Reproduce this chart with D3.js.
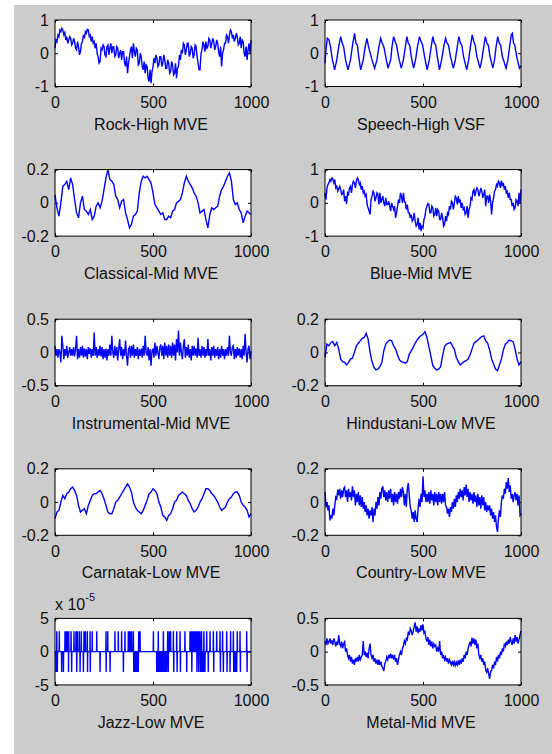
<!DOCTYPE html>
<html>
<head>
<meta charset="utf-8">
<script src="https://cdn.jsdelivr.net/npm/d3@7"></script>
<style>
  body { margin: 0; background: #fff; }
  text { font-family: "Liberation Sans", Arial, sans-serif; }
</style>
</head>
<body>
<div id="fig"></div>
<script>
// Values. Noisy traces: one value every 5 samples (0..1000),
// smoother ones every 10 samples.
const rockVals = [0.15,0.4,0.35,0.55,0.5,0.7,0.65,0.75,0.7,0.55,
  0.62,0.4,0.5,0.3,0.4,0.5,0.45,0.25,0.3,0.45,
  0.35,0.15,0.1,0.35,0.2,-0.05,0.05,0.3,0.35,0.55,
  0.45,0.65,0.6,0.72,0.7,0.5,0.55,0.35,0.5,0.3,
  0.35,0.15,0.3,0.0,-0.1,-0.3,-0.25,0.15,0.1,0.25,
  0.2,-0.05,-0.1,0.2,0.25,-0.05,0.15,0.3,0.0,0.2,
  0.2,-0.1,-0.05,0.2,0.15,-0.15,0.0,0.1,-0.2,0.05,
  0.05,-0.3,-0.4,-0.1,-0.6,-0.3,-0.1,0.1,0.2,-0.15,
  0.3,0.05,-0.1,0.15,0.1,-0.35,-0.3,0.0,-0.1,-0.4,
  -0.5,-0.25,-0.6,-0.35,-0.4,-0.75,-0.85,-0.5,-0.9,-0.55,
  -0.4,-0.15,-0.3,-0.05,-0.15,-0.4,-0.35,-0.1,-0.1,-0.4,
  -0.3,-0.05,-0.2,-0.45,-0.45,-0.2,-0.3,-0.6,-0.55,-0.25,
  -0.35,-0.65,-0.6,-0.3,-0.75,-0.45,-0.4,-0.05,-0.2,0.1,
  0.0,0.3,0.25,-0.05,0.1,0.3,0.3,-0.1,0.0,0.2,
  0.15,-0.15,-0.05,0.25,0.2,-0.1,-0.3,-0.5,-0.5,0.0,
  0.1,0.35,0.25,0.05,0.35,0.15,0.2,0.45,0.4,0.15,
  0.3,0.45,0.35,0.1,0.2,0.4,0.3,0.05,-0.1,0.2,
  -0.4,0.0,0.1,0.3,0.3,0.55,0.5,0.3,0.55,0.7,
  0.65,0.45,0.55,0.35,0.45,0.6,0.5,0.25,0.3,0.5,
  0.15,0.4,0.35,0.0,-0.1,0.2,-0.2,0.1,0.3,0.0,
  0.4];

// Speech is quasi periodic, so keep [sample, value] key points
const speechPts = [[0,-0.3],[5,0.1],[12,0.45],[20,0.4],[28,0.2],[38,-0.2],[49,-0.5],
  [60,-0.2],[70,0.2],[80,0.5],[88,0.3],[95,0.2],[105,-0.2],[117,-0.5],
  [130,-0.2],[142,0.3],[151,0.6],[158,0.3],[165,0.25],[172,-0.1],[182,-0.5],
  [195,-0.2],[205,0.2],[214,0.45],[222,0.2],[240,-0.2],[253,-0.45],
  [265,-0.2],[275,0.2],[284,0.45],[292,0.3],[300,0.2],[310,-0.1],[321,-0.45],
  [335,-0.2],[342,0.2],[350,0.5],[358,0.35],[365,0.25],[375,-0.1],[389,-0.45],
  [400,-0.2],[410,0.2],[418,0.5],[425,0.3],[432,0.25],[440,-0.1],[452,-0.45],
  [462,-0.2],[472,0.2],[482,0.5],[490,0.35],[498,0.25],[508,-0.1],[521,-0.5],
  [532,-0.2],[542,0.2],[550,0.5],[558,0.3],[565,0.25],[573,-0.1],[584,-0.5],
  [595,-0.2],[606,0.2],[615,0.45],[623,0.3],[630,0.25],[640,-0.1],[655,-0.45],
  [665,-0.2],[675,0.2],[683,0.5],[691,0.3],[698,0.25],[707,-0.1],[723,-0.5],
  [733,-0.2],[742,0.2],[751,0.55],[759,0.35],[766,0.25],[775,-0.1],[791,-0.45],
  [800,-0.2],[810,0.2],[818,0.5],[826,0.3],[833,0.25],[842,-0.1],[856,-0.45],
  [865,-0.2],[873,0.2],[881,0.5],[889,0.3],[896,0.25],[905,-0.1],[924,-0.45],
  [933,-0.2],[942,0.2],[950,0.55],[956,0.6],[962,0.3],[968,0.25],[978,-0.1],
  [992,-0.45],[1000,-0.38]];

const classicalVals = [0.05,-0.03,-0.08,0.0,0.1,0.11,0.13,0.08,0.15,0.11,
  0.02,-0.06,-0.09,0.0,0.04,-0.04,-0.05,-0.07,-0.04,-0.1,
  -0.08,-0.02,0.0,-0.03,0.01,0.08,0.15,0.2,0.14,0.13,
  0.11,0.04,0.02,-0.03,0.01,0.02,-0.06,-0.1,-0.15,-0.13,
  -0.08,-0.07,-0.05,0.06,0.13,0.16,0.15,0.16,0.14,0.12,
  0.06,-0.01,-0.03,-0.05,-0.07,-0.06,-0.1,-0.1,-0.08,-0.09,
  -0.05,-0.04,0.0,0.01,0.02,0.06,0.12,0.16,0.13,0.11,
  0.09,0.06,0.04,0.0,-0.06,-0.05,-0.04,-0.1,-0.15,-0.07,
  -0.03,-0.04,-0.03,-0.02,0.04,0.08,0.1,0.13,0.16,0.18,
  0.13,0.02,-0.01,0.0,-0.04,-0.06,-0.12,-0.08,-0.05,-0.06,
  -0.07];

const blueVals = [0.3,0.1,0.45,0.55,0.6,0.7,0.65,0.75,0.72,0.6,
  0.7,0.45,0.5,0.35,0.42,0.5,0.4,0.25,0.27,0.4,
  0.05,0.2,-0.03,0.3,0.25,0.45,0.5,0.3,0.55,0.65,
  0.6,0.45,0.65,0.75,0.7,0.55,0.6,0.4,0.5,0.3,
  0.35,0.2,0.25,-0.05,-0.15,-0.25,-0.35,0.1,0.2,0.35,
  0.3,0.05,0.15,0.3,0.25,-0.05,0.3,0.0,0.1,0.2,
  0.0,-0.1,0.15,-0.05,-0.05,0.05,-0.1,-0.25,0.0,-0.1,
  -0.2,-0.1,-0.45,-0.3,-0.1,0.1,0.0,0.3,0.2,0.0,
  0.3,0.05,0.0,-0.2,-0.05,-0.3,-0.3,-0.45,-0.35,-0.55,
  -0.5,-0.3,-0.55,-0.7,-0.65,-0.45,-0.8,-0.6,-0.85,-0.7,
  -0.75,-0.5,-0.4,-0.2,-0.1,-0.02,-0.05,-0.3,-0.3,-0.1,
  -0.15,-0.4,-0.35,-0.15,-0.4,-0.2,-0.25,-0.5,-0.5,-0.3,
  -0.45,-0.7,-0.65,-0.4,-0.55,-0.3,-0.35,-0.1,-0.2,0.05,
  0.0,-0.2,0.0,0.2,0.15,-0.05,0.2,0.0,0.1,-0.15,
  0.0,-0.2,-0.15,-0.35,-0.3,-0.1,-0.45,-0.2,-0.1,0.15,
  0.1,0.35,0.4,0.2,0.35,0.45,0.4,0.2,0.3,0.45,
  0.35,0.15,0.25,0.4,-0.1,0.2,0.2,0.0,0.25,0.05,
  -0.35,0.0,0.15,0.35,0.4,0.55,0.5,0.65,0.6,0.45,
  0.67,0.5,0.6,0.4,0.5,0.3,0.35,0.15,0.3,0.1,
  0.1,-0.1,0.0,-0.2,-0.15,0.1,0.05,-0.1,0.3,0.0,
  0.4];

const instrumentalVals = [0.1,-0.05,0.05,-0.08,0.05,0.0,-0.15,0.25,0.1,-0.1,
  0.05,-0.05,0.1,-0.08,0.0,0.08,-0.05,0.05,-0.05,0.08,
  -0.06,0.05,0.25,-0.1,0.05,-0.08,0.08,-0.05,0.1,-0.08,
  0.06,-0.06,0.05,-0.1,0.08,-0.02,0.06,-0.08,0.05,-0.05,
  0.3,-0.05,0.08,-0.08,0.05,-0.05,0.1,-0.06,0.08,-0.1,
  0.05,-0.08,0.06,-0.12,0.05,-0.05,0.12,-0.05,0.25,0.0,
  -0.08,0.1,-0.05,0.08,-0.12,0.05,0.2,-0.05,0.08,-0.1,
  0.05,-0.05,0.18,-0.05,-0.2,0.05,0.08,-0.08,0.1,-0.05,
  0.12,-0.08,0.05,-0.05,0.08,-0.1,0.05,-0.05,0.06,-0.08,
  0.1,-0.05,0.25,0.0,-0.05,0.08,-0.12,0.05,-0.2,0.03,
  0.05,-0.08,0.15,-0.05,0.1,0.0,-0.1,0.08,0.12,-0.05,
  0.1,-0.1,0.15,-0.05,0.1,-0.08,0.12,-0.05,0.1,-0.08,
  0.15,-0.05,0.12,-0.12,0.2,0.0,0.33,-0.05,0.15,0.0,
  -0.1,0.1,0.2,-0.08,0.08,-0.05,0.12,-0.08,0.05,-0.12,
  0.1,-0.05,0.1,-0.05,0.06,-0.08,0.22,-0.05,0.05,-0.08,
  0.1,-0.05,0.08,-0.08,0.05,-0.05,0.2,-0.05,0.05,-0.12,
  0.08,-0.05,0.1,-0.08,0.05,-0.05,0.08,-0.1,0.05,-0.08,
  0.1,-0.05,0.05,-0.1,0.05,-0.05,0.08,-0.05,0.25,0.0,
  -0.05,0.08,0.1,-0.1,0.05,-0.08,0.08,-0.05,0.06,-0.08,
  0.05,-0.1,0.1,-0.05,0.28,0.0,-0.15,0.05,0.1,-0.1,
  0.02];

const hindustaniVals = [-0.03,0.05,0.04,0.06,0.065,0.04,0.06,0.02,-0.04,-0.055,
  -0.06,-0.075,-0.06,-0.04,-0.035,0.0,0.04,0.055,0.07,0.085,
  0.09,0.115,0.08,0.0,-0.055,-0.09,-0.105,-0.1,-0.085,-0.06,
  0.01,0.05,0.065,0.075,0.07,0.04,0.02,-0.015,-0.045,-0.055,
  -0.06,-0.065,-0.055,-0.01,0.01,0.03,0.055,0.075,0.09,0.1,
  0.11,0.125,0.09,0.035,-0.02,-0.08,-0.095,-0.105,-0.1,-0.085,
  -0.02,0.035,0.05,0.055,0.06,0.04,0.02,-0.03,-0.055,-0.075,
  -0.065,-0.055,-0.05,-0.04,-0.015,0.02,0.055,0.065,0.075,0.085,
  0.095,0.1,0.07,0.055,0.015,-0.04,-0.07,-0.1,-0.11,-0.075,
  -0.04,0.015,0.05,0.06,0.075,0.07,0.065,0.02,-0.04,-0.075,
  -0.055];

const carnatakVals = [-0.1,-0.06,-0.05,0.0,0.04,0.02,0.05,0.06,0.08,0.09,
  0.07,0.04,-0.02,-0.06,-0.05,-0.04,-0.07,-0.02,0.01,0.04,
  0.05,0.05,0.06,0.07,0.05,0.02,-0.02,-0.06,-0.07,-0.07,
  -0.04,0.0,0.01,0.03,0.05,0.07,0.09,0.11,0.09,0.06,
  0.0,-0.03,-0.05,-0.06,-0.07,-0.05,-0.02,0.01,0.05,0.06,
  0.08,0.07,0.05,0.0,-0.03,-0.08,-0.09,-0.11,-0.08,-0.07,
  -0.04,0.0,0.01,0.04,0.05,0.06,0.05,0.04,0.01,-0.01,
  -0.04,-0.06,-0.05,-0.03,0.0,0.02,0.05,0.08,0.08,0.07,
  0.05,0.04,0.02,0.0,-0.03,-0.05,-0.04,-0.03,0.0,0.02,
  0.03,0.05,0.06,0.06,0.04,0.0,-0.02,-0.03,-0.05,-0.09,
  -0.07];

const countryVals = [0.06,-0.03,0.0,-0.05,-0.02,-0.11,-0.08,-0.1,-0.04,-0.08,
  -0.02,0.03,0.02,0.075,0.04,0.08,0.02,0.07,0.03,0.08,
  0.09,0.03,0.07,0.0,0.08,0.03,0.06,0.01,0.095,0.03,
  0.07,-0.02,0.05,0.0,0.06,-0.02,0.04,-0.03,0.03,-0.04,
  0.0,-0.06,-0.02,-0.08,-0.04,-0.1,-0.05,-0.08,-0.03,-0.12,
  -0.04,-0.08,0.0,-0.04,0.03,-0.02,0.06,0.02,0.08,0.095,
  0.03,0.07,0.01,0.06,0.0,0.07,0.02,0.08,0.0,0.05,
  -0.02,0.06,0.0,0.05,-0.01,0.06,0.02,0.08,0.03,0.09,
  0.06,-0.02,0.05,-0.03,0.08,0.115,0.04,-0.03,-0.05,-0.1,
  -0.06,-0.12,-0.05,-0.1,-0.12,-0.04,0.02,-0.03,0.05,0.0,
  0.155,0.03,0.07,0.0,0.05,0.0,0.06,-0.01,0.07,0.01,
  0.05,-0.02,0.06,0.0,0.05,-0.02,0.06,0.0,0.05,-0.01,
  0.05,0.0,0.06,-0.02,-0.03,-0.07,-0.04,-0.09,-0.03,-0.06,
  0.0,-0.04,0.02,-0.03,0.04,0.0,0.06,0.02,0.08,0.03,
  0.07,0.01,0.09,0.04,0.105,0.03,0.08,0.0,0.06,0.01,
  0.05,-0.01,0.06,0.0,0.04,-0.03,0.05,-0.02,0.03,-0.04,
  0.04,-0.02,0.03,-0.05,0.0,-0.06,-0.02,-0.05,-0.02,-0.08,
  -0.04,-0.1,-0.06,-0.12,-0.08,-0.15,-0.18,-0.1,-0.05,-0.09,
  0.0,0.04,0.02,0.08,0.05,0.12,0.08,0.145,0.06,0.1,
  0.02,0.05,0.0,0.04,0.06,0.01,0.05,-0.02,0.04,-0.08,
  -0.07];

// Jazz: the signal sits on 0 and jumps by one quantisation step
const jazzLevel = 3.05e-5;
const jazzUp = [9,22,51,56,60,66,68,70,82,97,107,114,124,134,148,155,165,179,190,213,
  260,269,306,323,340,357,374,376,379,381,383,386,388,391,400,427,434,502,527,553,
  575,583,590,604,621,638,663,689,692,697,700,703,706,710,714,718,723,727,731,735,
  740,748,760,774,791,808,825,842,855,876,896,910,930,944,978];
const jazzDown = [5,12,34,43,69,85,111,128,145,166,180,230,261,281,349,402,405,408,411,
  414,417,420,425,519,522,529,533,536,540,544,548,551,557,561,566,570,578,606,623,
  640,672,698,724,733,742,745,750,753,757,761,765,782,810,844,859,878,893,912,915,
  918,922,927,946,980];

const metalVals = [0.16,0.1,0.2,0.12,0.15,0.2,0.12,0.17,0.1,0.2,
  0.15,0.08,0.15,0.1,0.25,0.12,0.08,0.15,0.05,0.12,
  0.15,0.0,0.05,-0.05,-0.1,-0.05,-0.15,-0.08,-0.18,-0.12,
  -0.2,-0.1,-0.15,-0.08,-0.15,-0.05,-0.12,-0.08,-0.05,0.16,
  -0.05,0.0,-0.08,-0.02,-0.1,0.05,0.12,-0.05,-0.1,-0.05,
  -0.15,-0.1,-0.18,-0.12,-0.2,-0.12,-0.2,-0.15,-0.22,-0.25,
  -0.29,-0.18,-0.15,-0.08,-0.12,-0.05,-0.1,-0.03,-0.1,-0.05,
  -0.12,-0.05,-0.15,-0.1,-0.2,-0.12,-0.05,0.0,-0.05,0.05,
  0.08,0.16,0.12,0.2,0.18,0.3,0.25,0.35,0.32,0.25,
  0.3,0.38,0.44,0.3,0.38,0.28,0.35,0.3,0.4,0.32,
  0.41,0.28,0.3,0.2,0.15,0.22,0.1,0.18,0.08,0.15,
  0.05,0.12,0.08,0.1,0.0,0.05,0.0,0.16,-0.05,0.0,
  -0.1,-0.05,-0.12,-0.08,-0.15,-0.1,-0.18,-0.12,-0.16,-0.2,
  -0.14,-0.2,-0.15,-0.21,-0.16,-0.2,-0.13,-0.2,-0.12,-0.18,
  -0.1,-0.15,-0.05,-0.1,0.0,-0.05,0.05,0.1,0.15,0.08,
  0.21,0.12,0.2,0.1,0.18,0.05,0.12,-0.05,-0.1,-0.05,
  -0.15,-0.1,-0.2,-0.15,-0.28,-0.31,-0.25,-0.33,-0.41,-0.3,
  -0.28,-0.2,-0.25,-0.15,-0.2,-0.08,-0.15,-0.05,-0.1,0.0,
  -0.05,0.05,0.0,0.12,0.08,0.15,0.1,0.18,0.12,0.22,
  0.15,0.1,0.2,0.12,0.25,0.15,0.22,0.12,0.18,0.25,
  0.31];

const xTicks = [0, 500, 1000];
const ticks1 = [-1, 0, 1];
const ticks05 = [-0.5, 0, 0.5];
const ticks02 = [-0.2, 0, 0.2];
const ticksJazz = [-5e-5, 0, 5e-5];

// spread an evenly sampled array over samples 0..1000
const stepped = vals => vals.map((v, i) => [i * 1000 / (vals.length - 1), v]);

const jazzPts = d3.range(0, 1001).map(i => [i,
  jazzUp.includes(i) ? jazzLevel : (jazzDown.includes(i) ? -jazzLevel : 0)]);

const panels = [
  { title: "Rock-High MVE", pts: stepped(rockVals), yt: ticks1, col: 0, row: 0 },
  { title: "Speech-High VSF", pts: speechPts, yt: ticks1, col: 1, row: 0 },
  { title: "Classical-Mid MVE", pts: stepped(classicalVals), yt: ticks02, col: 0, row: 1 },
  { title: "Blue-Mid MVE", pts: stepped(blueVals), yt: ticks1, col: 1, row: 1 },
  { title: "Instrumental-Mid MVE", pts: stepped(instrumentalVals), yt: ticks05, col: 0, row: 2 },
  { title: "Hindustani-Low MVE", pts: stepped(hindustaniVals), yt: ticks02, col: 1, row: 2 },
  { title: "Carnatak-Low MVE", pts: stepped(carnatakVals), yt: ticks02, col: 0, row: 3 },
  { title: "Country-Low MVE", pts: stepped(countryVals), yt: ticks02, col: 1, row: 3 },
  { title: "Jazz-Low MVE", pts: jazzPts, yt: ticksJazz, col: 0, row: 4, exp: -5 },
  { title: "Metal-Mid MVE", pts: stepped(metalVals), yt: ticks05, col: 1, row: 4 }
];

const width = 552, height = 754;
const colX = [55, 325], axW = 196, axH = 66.5, rowTop = 20, rowStep = 149.6;
const textColor = "#111";

const svg = d3.select("#fig").append("svg")
    .attr("width", width)
    .attr("height", height);

// grey figure background
svg.append("rect")
    .attr("x", 14).attr("y", 5)
    .attr("width", width - 14).attr("height", height - 5)
    .attr("fill", "#cccccc");

function drawPanel(p) {
    const g = svg.append("g")
        .attr("transform", `translate(${colX[p.col]},${rowTop + p.row * rowStep})`);

    g.append("rect")
        .attr("width", axW).attr("height", axH)
        .attr("fill", "#fff");

    const x = d3.scaleLinear().domain([0, 1000]).range([0, axW]);
    const y = d3.scaleLinear().domain([p.yt[0], p.yt[2]]).range([axH, 0]);
    const fmt = p.exp ? (d => String(Math.round(d * Math.pow(10, -p.exp)))) : (d => String(d));

    // MATLAB style ticks pointing into the box
    const styleAxis = sel => {
        sel.select(".domain").remove();
        sel.selectAll("line").attr("stroke", "#000");
        sel.selectAll("text")
            .attr("fill", textColor)
            .style("font-family", '"Liberation Sans", Arial, sans-serif')
            .style("font-size", "16px");
    };

    g.append("g")
        .attr("transform", `translate(0,${axH})`)
        .call(d3.axisBottom(x).tickValues(xTicks).tickFormat(d => String(d))
            .tickSizeInner(-3).tickSizeOuter(0).tickPadding(10))
        .call(styleAxis);
    g.append("g")
        .call(d3.axisTop(x).tickValues(xTicks).tickFormat("")
            .tickSizeInner(-3).tickSizeOuter(0))
        .call(styleAxis);
    g.append("g")
        .call(d3.axisLeft(y).tickValues(p.yt).tickFormat(fmt)
            .tickSizeInner(-3).tickSizeOuter(0).tickPadding(6))
        .call(styleAxis);
    g.append("g")
        .attr("transform", `translate(${axW},0)`)
        .call(d3.axisRight(y).tickValues(p.yt).tickFormat("")
            .tickSizeInner(-3).tickSizeOuter(0))
        .call(styleAxis);

    // signal
    g.append("path")
        .datum(p.pts)
        .attr("fill", "none")
        .attr("stroke", "#0000ff")
        .attr("stroke-width", 1.4)
        .attr("d", d3.line().x(d => x(d[0])).y(d => y(d[1])));

    // box
    g.append("rect")
        .attr("width", axW).attr("height", axH)
        .attr("fill", "none")
        .attr("stroke", "#000")
        .attr("stroke-width", 1);

    // x label
    g.append("text")
        .attr("x", axW / 2 - 2)
        .attr("y", axH + 43)
        .attr("text-anchor", "middle")
        .attr("fill", textColor)
        .style("font-size", "16px")
        .text(p.title);

    // exponent label above the axes
    if (p.exp) {
        const t = g.append("text")
            .attr("x", 0)
            .attr("y", -8)
            .attr("fill", textColor)
            .style("font-size", "16px");
        t.append("tspan").text("x 10");
        t.append("tspan")
            .attr("dy", -9)
            .style("font-size", "11px")
            .text(String(p.exp));
    }
}

panels.forEach(drawPanel);
</script>
</body>
</html>
